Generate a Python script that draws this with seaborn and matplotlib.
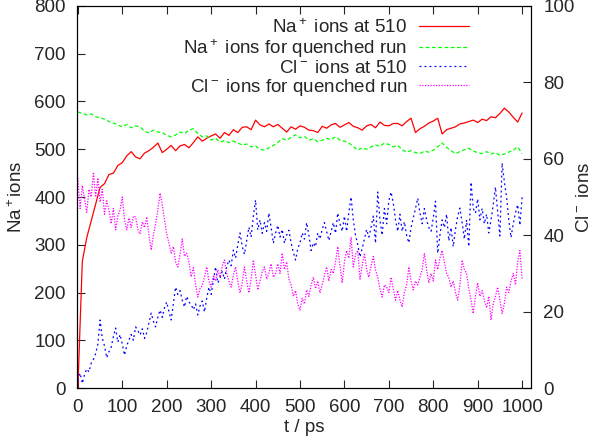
import numpy as np
import matplotlib
matplotlib.use("Agg")
from matplotlib import pyplot as plt
import seaborn as sns

# Na+ counts (left axis), sampled every 10 ps
na_510 = [0, 265, 315, 350, 385, 420, 428, 447, 450, 466, 472, 486, 495, 484, 480, 492, 497, 504, 513, 493,
          500, 508, 497, 507, 510, 503, 514, 526, 517, 523, 528, 532, 523, 535, 529, 541, 535, 546, 547, 541,
          561, 551, 547, 553, 547, 552, 544, 536, 547, 542, 549, 546, 540, 539, 535, 548, 544, 551, 554, 546,
          551, 556, 548, 545, 540, 549, 552, 545, 557, 550, 549, 554, 554, 549, 558, 565, 535, 543, 548, 555,
          559, 565, 532, 541, 544, 547, 553, 555, 558, 561, 556, 563, 560, 568, 566, 575, 586, 578, 567, 557,
          576]
na_quench = [578, 575, 572, 574, 568, 566, 563, 558, 555, 551, 547, 552, 545, 549, 547, 538, 534, 540, 536, 535,
             529, 526, 530, 536, 533, 540, 543, 533, 526, 528, 519, 523, 515, 518, 514, 517, 513, 509, 511, 505,
             507, 500, 498, 503, 508, 514, 522, 519, 525, 530, 524, 527, 519, 522, 516, 519, 523, 520, 526, 519,
             517, 513, 506, 498, 503, 500, 505, 509, 506, 513, 510, 505, 508, 499, 494, 497, 493, 491, 496, 494,
             498, 505, 513, 504, 497, 491, 495, 499, 502, 496, 493, 491, 495, 490, 493, 487, 490, 494, 498, 505,
             491]

# Cl- counts (right axis), sampled every 5 ps
cl_510 = [2.0, 3.9, 1.2, 3.5, 5.0, 4.2, 6.5, 7.5, 9.0, 11.5, 17.8, 13.0, 11.0, 7.9, 9.5, 10.7, 13.5, 15.7, 12.0, 14.0,
          11.5, 8.6, 11.0, 12.6, 14.0, 12.5, 16.0, 15.0, 13.9, 15.5, 13.0, 14.5, 17.0, 19.6, 17.5, 16.0, 18.5, 20.4, 18.5, 21.0,
          22.5, 20.0, 17.8, 22.0, 26.4, 24.5, 25.5, 23.0, 21.2, 24.0, 22.5, 21.9, 20.5, 22.0, 19.1, 21.5, 22.8, 19.9, 23.5, 26.4,
          24.5, 28.0, 31.7, 27.5, 28.8, 30.5, 28.5, 31.7, 33.5, 32.0, 36.1, 34.0, 37.5, 40.6, 37.0, 35.0, 38.5, 42.1, 39.5, 45.0,
          49.2, 41.4, 44.0, 40.5, 43.3, 41.0, 45.8, 42.0, 37.9, 40.5, 42.6, 39.5, 41.5, 37.9, 40.0, 41.3, 38.0, 35.5, 33.5, 36.5,
          38.0, 40.6, 39.0, 43.3, 40.0, 36.0, 38.0, 37.0, 40.6, 39.0, 41.5, 43.3, 41.0, 38.6, 41.0, 43.3, 40.5, 45.8, 43.0, 41.0,
          45.0, 41.0, 46.0, 50.0, 44.0, 40.0, 37.5, 34.3, 36.5, 39.0, 41.5, 39.5, 42.0, 45.0, 37.9, 51.3, 44.0, 40.0, 47.0, 43.0,
          49.0, 51.3, 48.4, 44.0, 41.0, 45.5, 41.0, 43.5, 40.0, 38.0, 42.0, 44.5, 47.0, 49.7, 45.8, 43.0, 47.0, 44.0, 42.0, 41.0,
          44.5, 48.9, 35.3, 40.0, 44.0, 42.0, 45.5, 38.5, 42.0, 37.0, 41.5, 45.0, 47.1, 43.3, 39.0, 44.0, 37.0, 53.9, 47.0, 45.8,
          49.5, 44.0, 47.0, 43.0, 45.5, 40.6, 44.0, 48.0, 52.6, 46.0, 39.8, 58.9, 54.0, 50.0, 44.0, 39.4, 43.0, 45.8, 48.0, 42.6,
          50.0]
cl_quench = [55.0, 47.0, 53.0, 49.5, 46.0, 52.0, 50.0, 56.5, 50.0, 55.0, 48.7, 52.0, 45.5, 49.0, 46.6, 43.0, 47.0, 41.4, 45.0, 46.6,
             50.0, 44.0, 41.4, 44.5, 42.0, 45.0, 44.8, 41.5, 40.3, 43.5, 42.0, 44.8, 40.0, 36.1, 40.0, 43.0, 46.6, 51.0, 48.0, 44.0,
             40.3, 38.0, 35.3, 37.0, 33.0, 31.7, 35.0, 39.0, 34.5, 35.3, 33.0, 29.1, 31.5, 27.0, 23.8, 26.0, 26.8, 29.0, 31.7, 28.0,
             26.4, 29.5, 28.0, 30.9, 29.0, 32.0, 33.5, 30.0, 28.0, 26.4, 29.5, 31.7, 28.0, 24.9, 27.5, 31.7, 28.0, 24.9, 28.5, 33.5,
             29.5, 25.7, 28.0, 30.5, 31.7, 28.5, 30.0, 32.5,
             29.0, 30.0, 32.5, 30.0, 35.3, 31.0, 33.0, 28.5, 27.0, 24.0, 25.5, 22.0,
             20.4, 23.5, 22.0, 25.7, 24.0, 27.0, 29.0, 26.0, 28.0, 24.9, 27.0, 29.5, 31.7, 28.0, 31.0, 30.0, 33.0, 37.0, 32.0, 27.5,
             33.0, 36.0, 34.0, 39.5, 31.7, 35.0, 36.0, 28.5, 32.0, 35.3, 31.0, 29.0, 32.0, 34.4, 31.0, 29.0, 26.0, 23.8, 27.0, 26.4,
             25.0, 29.0, 26.0, 23.0, 25.5, 23.0, 21.2, 25.0, 27.0, 31.7, 28.0, 25.7, 28.0, 27.0, 29.0, 31.0, 35.3, 31.0, 27.5, 30.0,
             28.0, 33.5, 31.0, 34.0, 36.0, 33.0, 30.0, 29.0, 26.4, 28.0, 25.0, 23.0, 27.0, 33.5, 31.0, 30.0, 26.0, 23.0, 19.5, 24.0,
             27.5, 24.0, 25.5, 23.0, 21.0, 24.0, 17.8, 22.0, 24.0, 26.4, 23.0, 19.5, 22.0, 26.4, 25.0, 28.0, 30.0, 27.0, 33.0, 36.0,
             28.5]

labels = ["Na$^+$ ions at 510", "Na$^+$ ions for quenched run",
          "Cl$^-$ ions at 510", "Cl$^-$ ions for quenched run"]
x_ticks = list(range(0, 1001, 100))
na_ticks = list(range(0, 801, 100))
cl_ticks = list(range(0, 101, 20))

sns.set_style("ticks", {"xtick.direction": "in", "ytick.direction": "in",
                        "axes.edgecolor": "black"})
plt.rcParams['font.family'] = ['Liberation Sans', 'DejaVu Sans']
plt.rcParams['mathtext.fontset'] = 'custom'
plt.rcParams['mathtext.rm'] = 'Liberation Sans'
plt.rcParams['mathtext.it'] = 'Liberation Sans:italic'
fs = 13.5
plt.rcParams['font.size'] = fs

fig = plt.figure(figsize=(6, 4.44), dpi=100)
ax = fig.add_axes([0.1283, 0.1261, 0.7567, 0.8604])
ax2 = ax.twinx()

t_na = np.linspace(0, 1000, len(na_510))
t_nq = np.linspace(0, 1000, len(na_quench))
t_cl = np.linspace(0, 1000, len(cl_510))
t_cq = np.linspace(0, 1000, len(cl_quench))

lw = 0.9
sns.lineplot(x=t_na, y=na_510, ax=ax, color='#ff0000', lw=lw, label=labels[0], legend=False)
sns.lineplot(x=t_nq, y=na_quench, ax=ax, color='#00ff00', lw=lw, linestyle=(0, (3, 2)),
             label=labels[1], legend=False)
sns.lineplot(x=t_cl, y=cl_510, ax=ax2, color='#0000ff', lw=lw, linestyle=(0, (1.5, 2.5)),
             label=labels[2], legend=False)
sns.lineplot(x=t_cq, y=cl_quench, ax=ax2, color='#ff00ff', lw=lw, linestyle=(0, (1, 1.2)),
             label=labels[3], legend=False)

ax.set_xlim(-2, 1020)
ax.set_ylim(0, 800)
ax2.set_ylim(0, 100)
ax.set_xticks(x_ticks)
ax.set_yticks(na_ticks)
ax2.set_yticks(cl_ticks)

ax.tick_params(axis='x', top=True, direction='in', length=6, width=0.8, pad=8, labelsize=fs)
ax.tick_params(axis='y', left=True, right=False, direction='in', length=6, width=0.8, pad=8, labelsize=fs)
ax2.tick_params(axis='y', right=True, left=False, direction='in', length=6, width=0.8, pad=9, labelsize=fs)
for a in (ax, ax2):
    for s in a.spines.values():
        s.set_linewidth(0.8)
        s.set_color('black')

ax.set_xlabel("t / ps", fontsize=fs)
ax.set_ylabel("Na$^+$ions", fontsize=fs)
ax2.set_ylabel("Cl$^-$ ions", fontsize=fs, rotation=90)
ax.xaxis.set_label_coords(0.5, -0.08)
ax.yaxis.set_label_coords(-0.113, 0.5)
ax2.yaxis.set_label_coords(1.10, 0.5)

handles = ax.get_lines() + ax2.get_lines()
ax2.legend(handles, labels, loc='upper right', bbox_to_anchor=(0.864, 0.968),
           frameon=False, markerfirst=False, handlelength=2.7, handletextpad=0.6,
           labelspacing=0.0, borderpad=0, borderaxespad=0, fontsize=fs)

fig.savefig("out.png", dpi=100)
